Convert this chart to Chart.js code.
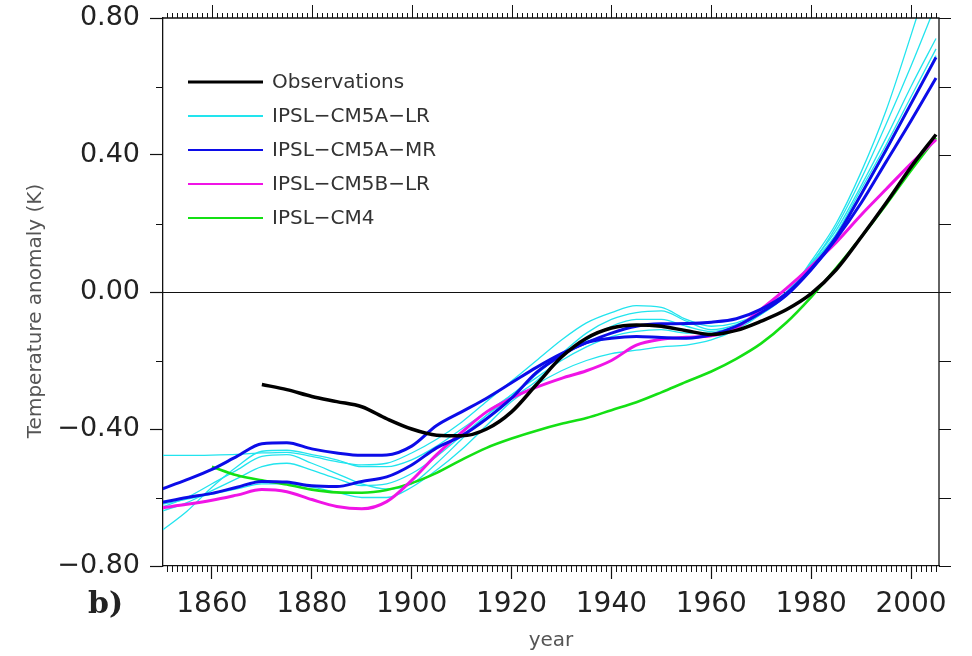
<!DOCTYPE html>
<html>
<head>
<meta charset="utf-8">
<script src="https://cdn.jsdelivr.net/npm/chart.js@4/dist/chart.umd.min.js"></script>
<style>
html,body{margin:0;padding:0;background:#fff;}
#wrap{width:972px;height:656px;}
</style>
</head>
<body>
<div id="wrap"><canvas id="c" width="972" height="656"></canvas></div>
<script>
// ---------------- data ----------------
const years = [1850,1855,1860,1865,1870,1875,1880,1885,1890,1895,1900,1905,1910,1915,1920,1925,1930,1935,1940,1945,1950,1955,1960,1965,1970,1975,1980,1985,1990,1995,2000,2005];

const observations = [null,null,null,null,-0.27,-0.285,-0.305,-0.32,-0.335,-0.37,-0.40,-0.418,-0.42,-0.40,-0.35,-0.27,-0.19,-0.135,-0.105,-0.096,-0.10,-0.113,-0.124,-0.112,-0.085,-0.052,-0.005,0.065,0.16,0.26,0.365,0.46];

const cm5aLR_1 = [-0.477,-0.477,-0.476,-0.474,-0.47,-0.468,-0.48,-0.495,-0.505,-0.50,-0.47,-0.43,-0.38,-0.32,-0.26,-0.20,-0.14,-0.09,-0.06,-0.04,-0.045,-0.08,-0.10,-0.09,-0.06,-0.01,0.09,0.20,0.35,0.53,0.75,0.98];
const cm5aLR_2 = [-0.696,-0.64,-0.57,-0.51,-0.465,-0.462,-0.475,-0.49,-0.51,-0.51,-0.49,-0.45,-0.40,-0.35,-0.30,-0.24,-0.18,-0.12,-0.08,-0.06,-0.055,-0.085,-0.11,-0.095,-0.06,-0.01,0.08,0.19,0.33,0.49,0.66,0.84];
const cm5aLR_3 = [-0.628,-0.60,-0.56,-0.52,-0.48,-0.475,-0.50,-0.53,-0.56,-0.575,-0.56,-0.50,-0.43,-0.36,-0.30,-0.25,-0.20,-0.16,-0.13,-0.115,-0.11,-0.12,-0.12,-0.10,-0.06,0.00,0.085,0.18,0.31,0.45,0.60,0.74];
const cm5aLR_4 = [-0.62,-0.605,-0.59,-0.575,-0.56,-0.56,-0.57,-0.585,-0.60,-0.60,-0.57,-0.52,-0.46,-0.39,-0.32,-0.27,-0.23,-0.20,-0.18,-0.17,-0.16,-0.155,-0.14,-0.11,-0.065,-0.005,0.08,0.17,0.30,0.43,0.57,0.71];
const cm5aLR_5 = [-0.64,-0.615,-0.58,-0.545,-0.51,-0.50,-0.52,-0.545,-0.565,-0.56,-0.53,-0.48,-0.42,-0.36,-0.31,-0.26,-0.19,-0.14,-0.10,-0.08,-0.08,-0.10,-0.115,-0.10,-0.065,-0.01,0.075,0.165,0.285,0.41,0.55,0.69];

const cm5aMR_1 = [-0.575,-0.548,-0.518,-0.48,-0.443,-0.44,-0.458,-0.47,-0.477,-0.476,-0.45,-0.39,-0.35,-0.31,-0.265,-0.22,-0.18,-0.148,-0.12,-0.10,-0.093,-0.092,-0.088,-0.078,-0.05,-0.005,0.068,0.16,0.285,0.415,0.55,0.685];
const cm5aMR_2 = [-0.614,-0.60,-0.588,-0.57,-0.553,-0.555,-0.566,-0.568,-0.553,-0.54,-0.505,-0.455,-0.42,-0.37,-0.31,-0.235,-0.185,-0.148,-0.135,-0.13,-0.133,-0.135,-0.125,-0.10,-0.06,-0.01,0.065,0.155,0.26,0.38,0.50,0.625];

const cm5bLR = [-0.63,-0.62,-0.608,-0.593,-0.577,-0.583,-0.606,-0.626,-0.633,-0.612,-0.55,-0.475,-0.41,-0.35,-0.31,-0.278,-0.252,-0.23,-0.20,-0.155,-0.138,-0.132,-0.128,-0.105,-0.05,0.01,0.075,0.145,0.225,0.30,0.375,0.445];

const cm4 = [null,null,-0.51,-0.535,-0.55,-0.562,-0.577,-0.585,-0.586,-0.578,-0.558,-0.528,-0.49,-0.455,-0.428,-0.405,-0.385,-0.368,-0.345,-0.322,-0.293,-0.262,-0.232,-0.195,-0.15,-0.09,-0.015,0.07,0.16,0.255,0.355,0.45];

const xTickLabels = [1860,1880,1900,1920,1940,1960,1980,2000];
const yTickLabels = [-0.8,-0.4,0,0.4,0.8];
const yMinorTicks = [-0.6,-0.2,0.2,0.6];

const legendNames = ['Observations','IPSL\u2212CM5A\u2212LR','IPSL\u2212CM5A\u2212MR','IPSL\u2212CM5B\u2212LR','IPSL\u2212CM4'];
const yTitle = 'Temperature anomaly (K)';
const xTitle = 'year';
const panelLabel = 'b)';

// ---------------- styles ----------------
const COL = {obs:'#000000', lr:'#22e4ee', mr:'#0c0ce8', blr:'#f014e6', cm4:'#14e014'};

function pts(arr){ return years.map((y,i)=>({x:y,y:arr[i]})).filter(p=>p.y!==null); }
function ds(label, arr, color, width, order){
  return {label, data:pts(arr), borderColor:color, backgroundColor:color, borderWidth:width,
    pointRadius:0, cubicInterpolationMode:'monotone', fill:false, order};
}

const datasets = [
  ds('Observations', observations, COL.obs, 3.5, 0),
  ds('IPSL-CM5A-MR', cm5aMR_1, COL.mr, 3, 1),
  ds('IPSL-CM5A-MR', cm5aMR_2, COL.mr, 3, 1),
  ds('IPSL-CM5B-LR', cm5bLR, COL.blr, 3, 2),
  ds('IPSL-CM4', cm4, COL.cm4, 2.6, 3),
  ds('IPSL-CM5A-LR', cm5aLR_1, COL.lr, 1.3, 4),
  ds('IPSL-CM5A-LR', cm5aLR_2, COL.lr, 1.3, 4),
  ds('IPSL-CM5A-LR', cm5aLR_3, COL.lr, 1.3, 4),
  ds('IPSL-CM5A-LR', cm5aLR_4, COL.lr, 1.3, 4),
  ds('IPSL-CM5A-LR', cm5aLR_5, COL.lr, 1.3, 4),
];

const legendColors = [COL.obs, COL.lr, COL.mr, COL.blr, COL.cm4];

// ---------------- plugins ----------------
const zeroLine = {
  id:'zeroLine',
  beforeDatasetsDraw(chart){
    const {ctx, chartArea:a, scales:{y}} = chart;
    const py = Math.round(y.getPixelForValue(0))+0.5;
    ctx.save(); ctx.strokeStyle='#111'; ctx.lineWidth=1.2;
    ctx.beginPath(); ctx.moveTo(a.left,py); ctx.lineTo(a.right,py); ctx.stroke(); ctx.restore();
  }
};

const frameTicks = {
  id:'frameTicks',
  afterDraw(chart){
    const {ctx, chartArea:a, scales:{x,y}} = chart;
    ctx.save();
    ctx.strokeStyle='#111'; ctx.lineWidth=1.3;
    ctx.beginPath();
    ctx.moveTo(a.left,a.top); ctx.lineTo(a.right,a.top); ctx.lineTo(a.right,a.bottom);
    ctx.stroke();
    ctx.lineWidth=1;
    ctx.beginPath();
    const x0 = Math.ceil(x.min), x1 = Math.floor(x.max);
    for(let yr=x0; yr<=x1; yr++){
      const px = Math.round(x.getPixelForValue(yr))+0.5;
      const major = yr%20===0;
      ctx.moveTo(px,a.top); ctx.lineTo(px,a.top-(major?13:5));
      if(!major){ ctx.moveTo(px,a.bottom); ctx.lineTo(px,a.bottom+6); }
    }
    yMinorTicks.forEach(v=>{
      const py = Math.round(y.getPixelForValue(v))+0.5;
      ctx.moveTo(a.left,py); ctx.lineTo(a.left-7,py);
    });
    yTickLabels.concat(yMinorTicks).forEach(v=>{
      const py = Math.round(y.getPixelForValue(v))+0.5;
      ctx.moveTo(a.right,py); ctx.lineTo(a.right+12,py);
    });
    ctx.stroke();

    // legend
    const lx0 = 188, lx1 = 263, tx = 272, ty0 = 82, dy = 34;
    ctx.font = '20px "DejaVu Sans"';
    ctx.textBaseline='middle'; ctx.textAlign='left';
    legendNames.forEach((n,i)=>{
      const yy = ty0 + i*dy;
      ctx.strokeStyle = legendColors[i]; ctx.lineWidth = i===0?3:2.2;
      ctx.beginPath(); ctx.moveTo(lx0,yy); ctx.lineTo(lx1,yy); ctx.stroke();
      ctx.fillStyle='#333'; ctx.fillText(n, tx, yy+1);
    });

    // y axis title
    ctx.save();
    ctx.translate(36, 311);
    ctx.rotate(-Math.PI/2);
    ctx.font = '20px "DejaVu Sans"';
    ctx.fillStyle = '#555'; ctx.textAlign='center'; ctx.textBaseline='middle';
    ctx.fillText(yTitle, 0, 0);
    ctx.restore();

    // panel letter
    ctx.font = 'bold 30px "DejaVu Serif"';
    ctx.fillStyle='#222'; ctx.textAlign='left'; ctx.textBaseline='middle';
    ctx.fillText(panelLabel, 88, 605);
    ctx.restore();
  }
};

// ---------------- chart ----------------
new Chart(document.getElementById('c'), {
  type:'line',
  data:{datasets},
  plugins:[zeroLine, frameTicks],
  options:{
    responsive:false,
    animation:false,
    layout:{padding:{top:18,right:33,left:0,bottom:0}},
    plugins:{legend:{display:false}, tooltip:{enabled:false}},
    scales:{
      x:{
        type:'linear', min:1850.2, max:2005.6,
        afterFit(s){ s.height = 90; s.paddingLeft = 0; s.paddingRight = 0; },
        afterBuildTicks(s){ s.ticks = xTickLabels.map(v=>({value:v})); },
        grid:{drawOnChartArea:false, drawTicks:true, tickLength:13, tickColor:'#111', tickWidth:1.2},
        border:{display:true, color:'#111', width:1.3},
        ticks:{autoSkip:false, maxRotation:0, padding:9, color:'#222',
          font:{family:'DejaVu Sans', size:28}, callback:v=>String(v)},
        title:{display:true, text:xTitle, color:'#555', font:{family:'DejaVu Sans', size:20}, padding:{top:0,bottom:3}}
      },
      y:{
        type:'linear', min:-0.8, max:0.8,
        afterFit(s){ s.width = 163; s.paddingTop = 0; s.paddingBottom = 0; },
        afterBuildTicks(s){ s.ticks = yTickLabels.map(v=>({value:v})); },
        grid:{drawOnChartArea:false, drawTicks:true, tickLength:13, tickColor:'#111', tickWidth:1.2},
        border:{display:true, color:'#111', width:1.3},
        ticks:{autoSkip:false, padding:10, color:'#222',
          font:{family:'DejaVu Sans', size:27},
          callback:v=> (v<0?'\u2212':'') + Math.abs(v).toFixed(2)}
      }
    }
  }
});
</script>
</body>
</html>
